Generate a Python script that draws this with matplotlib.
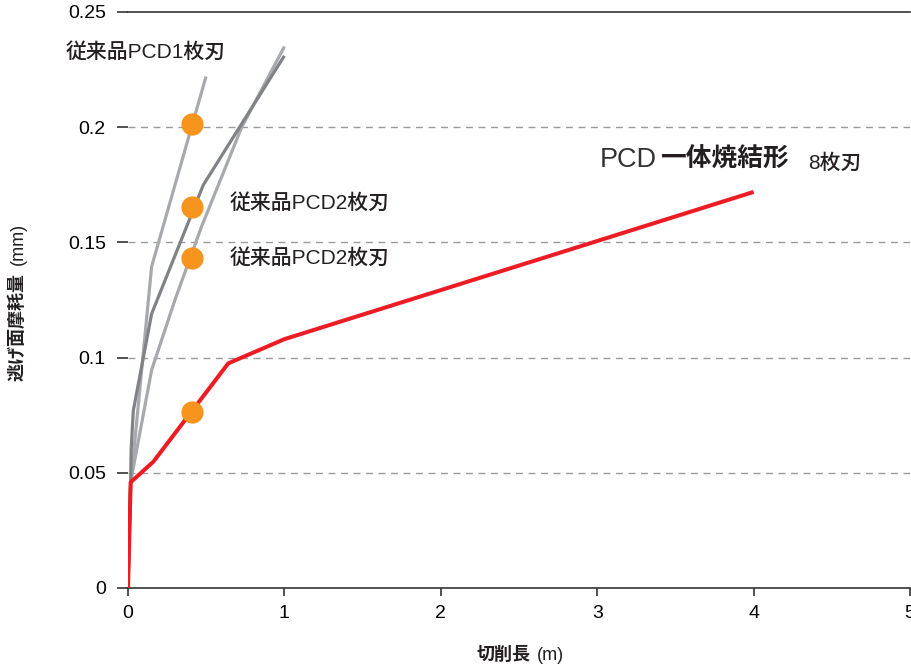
import matplotlib
matplotlib.use("Agg")
import matplotlib.pyplot as plt

plt.rcParams['font.family'] = ['Liberation Sans', 'Noto Sans CJK JP']

# cutting length (m) vs flank wear (mm)
pcd1_x = [0, 0.017, 0.151, 0.499]
pcd1_y = [0, 0.045, 0.1395, 0.222]

pcd2a_x = [0, 0.017, 0.02, 0.034, 0.151, 0.482, 1.0]
pcd2a_y = [0, 0.046, 0.06, 0.077, 0.119, 0.175, 0.231]

pcd2b_x = [0, 0.017, 0.151, 0.30, 0.471, 0.727, 1.0]
pcd2b_y = [0, 0.046, 0.0946, 0.125, 0.157, 0.2, 0.235]

sinter_x = [0, 0.017, 0.162, 0.641, 1.0, 4.0]
sinter_y = [0, 0.0459, 0.0548, 0.0975, 0.108, 0.1719]

# wear at 0.41 m for each tool
dot_x = [0.41, 0.41, 0.41, 0.41]
dot_y = [0.2016, 0.1655, 0.1432, 0.0764]

xticks = [0, 1, 2, 3, 4, 5]
yticks = [0, 0.05, 0.1, 0.15, 0.2, 0.25]
ytick_labels = ['0', '0.05', '0.1', '0.15', '0.2', '0.25']

W, H = 912, 672
fig = plt.figure(figsize=(W / 100, H / 100), dpi=100)
ax = fig.add_axes([128 / W, 84 / H, 782 / W, 576 / H])

for v in yticks[1:-1]:
    ax.axhline(v, color='#9a9a9a', lw=1, ls=(0, (5, 4)), zorder=1)

light = '#a7a9ac'
dark = '#808285'
ax.plot(pcd1_x, pcd1_y, color=light, lw=2.3, solid_capstyle='butt', zorder=2)
ax.plot(pcd2b_x, pcd2b_y, color=light, lw=2.3, solid_capstyle='butt', zorder=2)
ax.plot(pcd2a_x, pcd2a_y, color=dark, lw=2.3, solid_capstyle='butt', zorder=3)
ax.plot(sinter_x, sinter_y, color='#ed1c24', lw=2.9, solid_capstyle='butt', zorder=4)
ax.plot(dot_x, dot_y, 'o', color='#f7941d', ms=16, mec='none', zorder=5)

ax.set_xlim(0, 5)
ax.set_ylim(0, 0.25)
ax.set_xticks(xticks)
ax.set_yticks(yticks)
ax.set_yticklabels(ytick_labels)
ax.tick_params(axis='y', length=8, width=1.2, color='#333333', labelsize=14, pad=8)
ax.tick_params(axis='x', length=6, width=1.2, color='#333333', labelsize=14, pad=6)
for s in ['left', 'right']:
    ax.spines[s].set_visible(False)
for s in ['bottom', 'top']:
    ax.spines[s].set_color('#333333')
    ax.spines[s].set_linewidth(1.2)

# axis titles: bold kanji, regular unit
ink = '#231f20'
fig.text(477 / W, 1 - 655 / H, '切削長', fontsize=13, fontweight='bold', color=ink,
         ha='left', va='center')
fig.text(537 / W, 1 - 655 / H, '(m)', fontsize=13, color=ink, ha='left', va='center')
fig.text(18 / W, 1 - 381 / H, '逃げ面摩耗量', fontsize=13, fontweight='bold', color=ink,
         rotation=90, ha='center', va='bottom')
fig.text(18 / W, 1 - 265 / H, '(mm)', fontsize=13, color=ink,
         rotation=90, ha='center', va='bottom')

txt = dict(fontsize=15, fontweight='medium', color=ink, va='center', clip_on=False, zorder=6)
ax.text(-0.40, 0.2326, '従来品PCD1枚刃', **txt)
ax.text(0.652, 0.1671, '従来品PCD2枚刃', **txt)
ax.text(0.652, 0.1432, '従来品PCD2枚刃', **txt)

ax.text(3.018, 0.1858, 'PCD', fontsize=19.5, color='#333333', va='center')
ax.text(3.40, 0.1858, '一体焼結形', fontsize=18.5, color=ink, va='center', fontweight='bold')
ax.text(4.348, 0.1845, '8枚刃', fontsize=15, color=ink, va='center', fontweight='medium')

fig.savefig('out.png', dpi=100)
